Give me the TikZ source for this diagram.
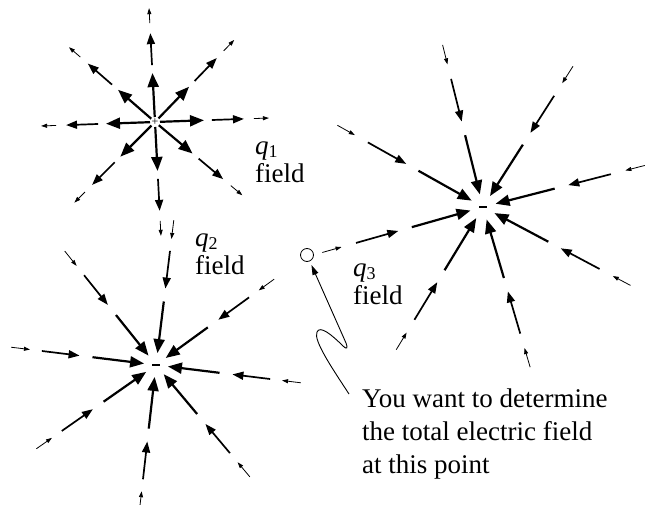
\documentclass[tikz,border=0pt]{standalone}
\usepackage{fontspec}
\setmainfont{Liberation Serif}
\usetikzlibrary{arrows.meta,calc}
\begin{document}
\begin{tikzpicture}[x=1pt,y=-1pt,
  fin/.style={line width=2.2pt,-{Triangle[length=14pt,width=11pt]}},
  fmid/.style={line width=1.7pt,-{Triangle[length=11pt,width=8pt]}},
  fout/.style={line width=0.8pt,-{Triangle[length=6pt,width=4pt]}},
  lbl/.style={font=\fontsize{27}{28}\selectfont, align=left, inner sep=0pt, anchor=south west},
  charge/.style={inner sep=0pt, font=\fontsize{12}{12}\selectfont}]
\useasboundingbox (0,0) rectangle (647,505);

% charges
\node[charge] (q1) at (155,122) {+};
\node[charge] (q2) at (156,365) {\rule{8pt}{1.2pt}};
\node[charge] (q3) at (483,207) {\rule{8pt}{1.2pt}};

% q1 field (outward)
\foreach \a in {-2,-46,-93,-139,-182,-225,-273,-320}{
  \draw[fin]  ($(q1)+(\a:5)$)  -- ($(q1)+(\a:49)$);
  \draw[fmid] ($(q1)+(\a:57)$) -- ($(q1)+(\a:89)$);
  \draw[fout] ($(q1)+(\a:99)$) -- ($(q1)+(\a:114)$);
}
% q2 field (inward)
\foreach \a in {-83,-36,7,50,96.5,145,-173,-128.7}{
  \draw[fin]  ($(q2)+(\a:64)$)  -- ($(q2)+(\a:12)$);
  \draw[fmid] ($(q2)+(\a:115)$) -- ($(q2)+(\a:77)$);
  \draw[fout] ($(q2)+(\a:146)$) -- ($(q2)+(\a:127)$);
}
% q3 field (inward)
\foreach \a in {-104,-57.4,-14.4,28,73.6,121.3,164.2,-150.7}{
  \draw[fin]  ($(q3)+(\a:74)$)  -- ($(q3)+(\a:13)$);
  \draw[fmid] ($(q3)+(\a:132)$) -- ($(q3)+(\a:88)$);
  \draw[fout] ($(q3)+(\a:167)$) -- ($(q3)+(\a:147)$);
}

% labels
\node[lbl] (L1) at (255,183) {\textit{q}\raisebox{-3pt}{\fontsize{18}{18}\selectfont 1}\\field};
\node[lbl] (L2) at (195,275) {\textit{q}\raisebox{-3pt}{\fontsize{18}{18}\selectfont 2}\\field};
\node[lbl] (L3) at (353,305) {\textit{q}\raisebox{-3pt}{\fontsize{18}{18}\selectfont 3}\\field};

% point and pointer
\node[draw, circle, minimum size=13pt, inner sep=0pt, line width=0.8pt] (P) at (307,255) {};
\coordinate (S) at (349,394);
\draw[line width=0.9pt, -{Triangle[length=10pt,width=6pt]}, shorten >=4pt]
  (S) .. controls (332,368) and (313,340) .. (317,332)
      .. controls (320,325) and (332,335) .. (343,346)
      .. controls (347,350) and (348,348) .. (346,343) -- (P);

\node[font=\fontsize{27}{33}\selectfont, align=left, inner sep=0pt, anchor=north west] (T) at (362,389)
  {You want to determine\\the total electric field\\at this point};
\end{tikzpicture}
\end{document}
